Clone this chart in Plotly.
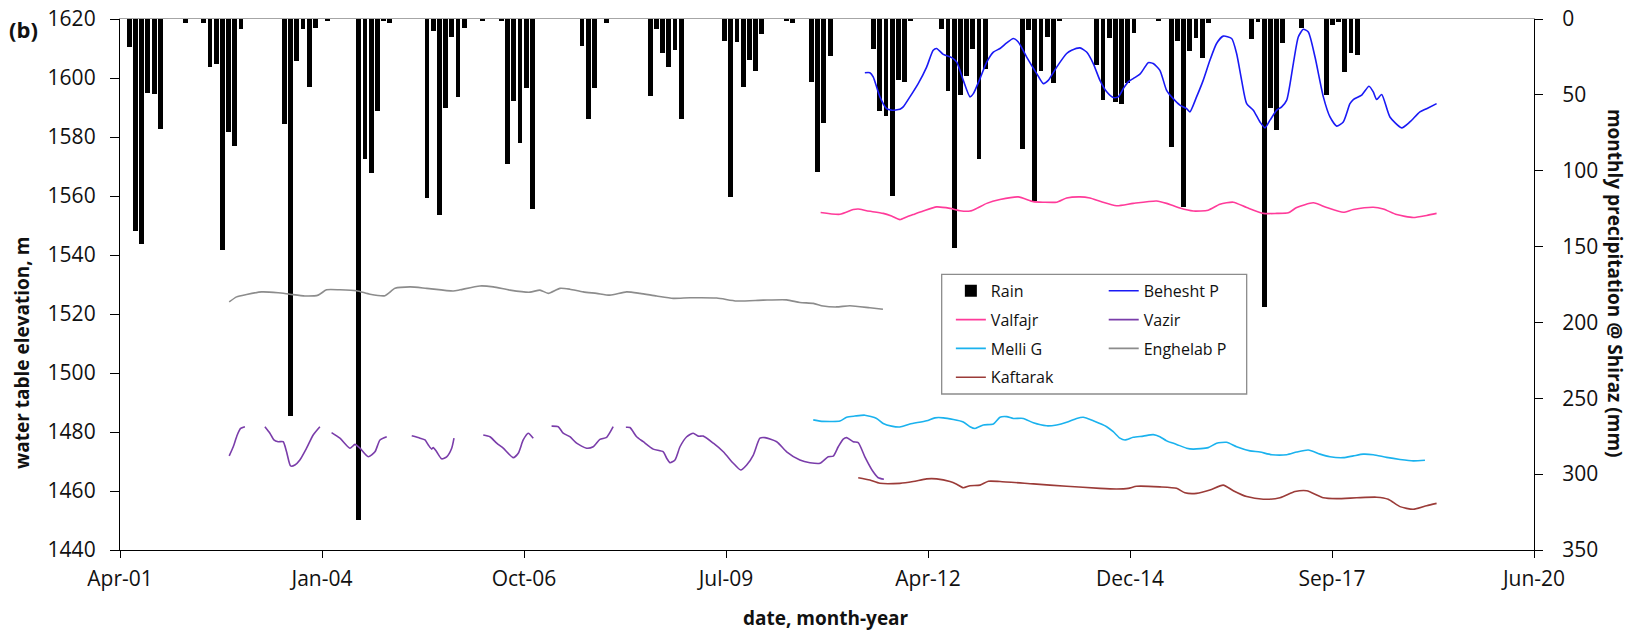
import plotly.graph_objects as go
import pandas as pd
from datetime import datetime

# ---------------- data ----------------
# monthly precipitation at Shiraz (mm), 228 consecutive months
rain_months = pd.date_range('2001-05-01', periods=228, freq='MS').strftime('%Y-%m').tolist()
rain_mm = [
    0, 18.7, 139.8, 148.3, 49, 49.4, 72.7, 0, 0, 0, 2.9, 0,
    0, 2.4, 31.9, 29.7, 152, 74.5, 84, 6.4, 0, 0, 0, 0,
    0, 0, 69.4, 261.5, 27.7, 6.8, 45, 5.9, 0, 1.1, 0, 0,
    0, 0, 330, 92, 101.7, 60.6, 1.1, 2.9, 0, 0, 0, 0,
    0, 118.2, 7.7, 129.2, 58.5, 11.9, 51.2, 6.2, 0, 0, 1.5, 0,
    0, 1.5, 95.4, 53.8, 82, 45.7, 125.2, 0, 0, 0, 0, 0,
    0, 0, 17.6, 65.9, 45.7, 0, 2.9, 0, 0, 0, 0, 0,
    0, 50.8, 6.4, 22.6, 31.9, 20.6, 65.9, 0, 0, 0, 0, 0,
    0, 14.3, 117.5, 15.4, 45, 26.8, 34.3, 9.7, 0, 0, 0, 1.1,
    2.4, 0, 0, 41.3, 100.6, 68.8, 24.4, 0, 0, 0, 0, 0,
    0, 20, 60.6, 63.7, 116.7, 40.4, 41.5, 1.5, 0, 0, 0, 0,
    6.8, 47.7, 151.2, 50.1, 37.6, 20, 92.1, 33, 0, 0, 0, 0,
    0, 85.9, 7.3, 120, 34.3, 11.9, 42, 1.5, 0, 0, 0, 0,
    0, 30.3, 53.4, 12.3, 54.5, 56.2, 42.4, 9.2, 0, 0, 0, 1.1,
    0, 84.2, 14.7, 123.7, 21.1, 12.5, 25.5, 2.4, 0, 0, 0, 0,
    0, 0, 13.4, 2, 189.6, 58.5, 73.2, 15.6, 0, 0, 6.2, 0,
    0, 0, 50.1, 4, 2, 35.2, 22.2, 23.7, 0, 0, 0, 0,
    0, 0, 0, 0, 0, 0, 0, 0, 0, 0, 0, 0,
    0, 0, 0, 0, 0, 0, 0, 0, 0, 0, 0, 0,
]

# water-table elevations (m); time as decimal year
behesht_t = [2011.393, 2011.461, 2011.506, 2011.597, 2011.688, 2011.755, 2011.868, 2011.913, 2012.004, 2012.116,
             2012.230, 2012.319, 2012.365, 2012.455, 2012.569, 2012.637, 2012.726, 2012.817, 2012.862, 2012.952,
             2013.043, 2013.133, 2013.223, 2013.314, 2013.404, 2013.471, 2013.585, 2013.721, 2013.810, 2013.878,
             2013.992, 2014.127, 2014.195, 2014.308, 2014.398, 2014.488, 2014.579, 2014.670, 2014.759, 2014.827,
             2014.895, 2014.962, 2015.030, 2015.121, 2015.189, 2015.233, 2015.301, 2015.392, 2015.483, 2015.572,
             2015.663, 2015.754, 2015.798, 2015.889, 2015.979, 2016.070, 2016.160, 2016.250, 2016.364, 2016.431,
             2016.499, 2016.567, 2016.657, 2016.747, 2016.815, 2016.883, 2016.974, 2017.041, 2017.109, 2017.199,
             2017.266, 2017.334, 2017.402, 2017.493, 2017.606, 2017.696, 2017.787, 2017.876, 2017.967, 2018.012,
             2018.126, 2018.225, 2018.283, 2018.329, 2018.397, 2018.509, 2018.668, 2018.780, 2018.916, 2019.007,
             2019.142]
behesht_e = [1601.8, 1601.8, 1600.4, 1593.6, 1589.6, 1589.1, 1589.4, 1590.2, 1593.6, 1598.1,
             1603.7, 1609.4, 1610.0, 1608.0, 1606.9, 1605.4, 1599.2, 1593.6, 1594.7, 1599.8,
             1605.4, 1608.8, 1610.0, 1611.9, 1613.4, 1612.2, 1607.1, 1601.5, 1598.1, 1599.2,
             1603.7, 1608.3, 1609.4, 1610.2, 1608.8, 1604.9, 1599.2, 1595.3, 1593.4, 1593.6,
             1596.4, 1598.7, 1599.8, 1601.3, 1603.7, 1605.2, 1604.9, 1602.6, 1595.8, 1593.0,
             1590.8, 1589.6, 1588.5, 1593.6, 1599.2, 1606.0, 1611.7, 1614.2, 1613.4, 1608.3,
             1599.2, 1591.3, 1589.1, 1585.1, 1583.1, 1585.7, 1589.1, 1590.2, 1592.5, 1604.9,
             1613.9, 1616.5, 1615.6, 1607.1, 1593.6, 1586.8, 1583.7, 1585.1, 1591.3, 1592.7,
             1594.2, 1597.2, 1595.3, 1592.7, 1594.4, 1586.8, 1583.1, 1585.1, 1588.5, 1589.6,
             1591.3]

valfajr_t = [2010.793, 2011.055, 2011.235, 2011.303, 2011.417, 2011.642, 2011.755, 2011.868, 2011.959, 2012.048,
             2012.184, 2012.365, 2012.546, 2012.681, 2012.817, 2012.907, 2013.043, 2013.223, 2013.471, 2013.675,
             2013.810, 2013.992, 2014.127, 2014.308, 2014.443, 2014.579, 2014.805, 2015.030, 2015.347, 2015.483,
             2015.663, 2015.844, 2016.047, 2016.205, 2016.386, 2016.567, 2016.792, 2016.974, 2017.131, 2017.245,
             2017.470, 2017.652, 2017.876, 2018.012, 2018.283, 2018.419, 2018.600, 2018.825, 2019.007, 2019.142]
valfajr_e = [1554.4, 1553.8, 1555.4, 1555.6, 1555.0, 1554.1, 1553.2, 1552.0, 1552.9, 1553.7,
             1554.9, 1556.3, 1555.8, 1555.0, 1554.9, 1555.8, 1557.5, 1558.8, 1559.7, 1558.1,
             1557.9, 1557.9, 1559.3, 1559.7, 1559.3, 1558.2, 1556.7, 1557.5, 1558.3, 1557.5,
             1555.9, 1554.9, 1555.2, 1557.2, 1557.9, 1556.1, 1554.1, 1554.1, 1554.3, 1556.1,
             1557.7, 1556.1, 1554.5, 1555.4, 1556.2, 1555.6, 1553.7, 1552.7, 1553.4, 1554.1]

melli_t = [2010.693, 2010.784, 2011.055, 2011.146, 2011.258, 2011.393, 2011.552, 2011.642, 2011.755, 2011.868,
           2012.004, 2012.230, 2012.342, 2012.455, 2012.726, 2012.817, 2012.885, 2012.997, 2013.133, 2013.223,
           2013.314, 2013.404, 2013.539, 2013.675, 2013.856, 2013.992, 2014.127, 2014.263, 2014.352, 2014.488,
           2014.670, 2014.759, 2014.850, 2014.918, 2015.030, 2015.166, 2015.301, 2015.392, 2015.483, 2015.618,
           2015.754, 2015.844, 2016.047, 2016.160, 2016.296, 2016.431, 2016.612, 2016.747, 2016.906, 2017.109,
           2017.245, 2017.402, 2017.561, 2017.696, 2017.876, 2018.012, 2018.147, 2018.283, 2018.464, 2018.645,
           2018.825, 2018.984]
melli_e = [1484.1, 1483.7, 1483.7, 1485.0, 1485.4, 1485.7, 1484.6, 1482.9, 1482.0, 1481.7,
           1482.7, 1483.8, 1484.8, 1484.8, 1483.4, 1481.8, 1481.2, 1482.4, 1482.7, 1485.0,
           1485.2, 1484.6, 1484.6, 1483.1, 1482.1, 1482.4, 1483.3, 1484.6, 1485.0, 1483.8,
           1481.8, 1480.1, 1477.9, 1477.3, 1478.2, 1478.6, 1479.1, 1478.4, 1477.0, 1475.8,
           1474.5, 1474.2, 1474.7, 1476.2, 1476.5, 1475.0, 1473.6, 1473.2, 1472.3, 1472.3,
           1473.2, 1473.9, 1472.5, 1471.6, 1471.3, 1471.9, 1472.5, 1472.3, 1471.4, 1470.7,
           1470.2, 1470.4]

kaftarak_t = [2011.303, 2011.461, 2011.597, 2011.868, 2012.048, 2012.230, 2012.365, 2012.546, 2012.637, 2012.726,
              2012.817, 2012.952, 2013.065, 2013.223, 2013.675, 2014.127, 2014.579, 2014.805, 2014.962, 2015.076,
              2015.392, 2015.618, 2015.731, 2015.889, 2016.070, 2016.250, 2016.386, 2016.567, 2016.792, 2017.018,
              2017.222, 2017.380, 2017.606, 2017.787, 2018.058, 2018.329, 2018.486, 2018.645, 2018.825, 2019.007,
              2019.142]
kaftarak_e = [1464.5, 1463.7, 1462.6, 1462.6, 1463.2, 1464.1, 1464.1, 1463.2, 1462.3, 1461.1,
              1461.8, 1462.0, 1463.3, 1463.2, 1462.4, 1461.6, 1460.9, 1460.7, 1460.9, 1461.6,
              1461.4, 1460.9, 1459.4, 1459.2, 1460.3, 1462.0, 1460.1, 1458.1, 1457.2, 1457.7,
              1459.8, 1460.1, 1457.7, 1457.4, 1457.7, 1457.9, 1457.2, 1454.7, 1453.8, 1455.0,
              1455.8]

enghelab_t = [2002.777, 2002.878, 2003.013, 2003.217, 2003.441, 2003.600, 2003.803, 2003.984, 2004.097, 2004.278,
              2004.504, 2004.685, 2004.887, 2005.023, 2005.227, 2005.453, 2005.813, 2005.904, 2006.175, 2006.356,
              2006.582, 2006.853, 2006.989, 2007.101, 2007.260, 2007.395, 2007.575, 2007.757, 2007.937, 2008.164,
              2008.344, 2008.570, 2008.795, 2009.022, 2009.384, 2009.655, 2010.015, 2010.332, 2010.512, 2010.693,
              2010.828, 2011.010, 2011.190, 2011.461, 2011.638]
enghelab_e = [1524.1, 1525.8, 1526.6, 1527.5, 1527.2, 1526.7, 1526.1, 1526.4, 1528.2, 1528.2,
              1527.9, 1526.7, 1526.2, 1528.7, 1529.2, 1528.7, 1527.8, 1528.2, 1529.5, 1529.2,
              1528.1, 1527.4, 1528.1, 1527.0, 1528.7, 1528.4, 1527.5, 1527.0, 1526.4, 1527.5,
              1527.0, 1526.1, 1525.3, 1525.5, 1525.4, 1524.4, 1524.7, 1524.8, 1523.9, 1523.6,
              1522.7, 1522.4, 1522.8, 1522.1, 1521.6]

# Vazir record has gaps (None)
vazir_t = [2002.777, 2002.832, 2002.886, 2002.932, 2002.990, None,
           2003.261, 2003.329, 2003.383, 2003.441, 2003.509, 2003.555, 2003.610, 2003.668, 2003.735, 2003.826,
           2003.916, 2004.007, None,
           2004.165, 2004.278, 2004.413, 2004.481, 2004.549, 2004.661, 2004.752, 2004.820, 2004.911, None,
           2005.250, 2005.362, 2005.430, 2005.475, 2005.521, 2005.542, 2005.588, 2005.656, 2005.724, 2005.792,
           2005.823, None,
           2006.220, 2006.311, 2006.402, 2006.491, 2006.627, 2006.695, 2006.762, 2006.830, 2006.898, None,
           2007.147, 2007.237, 2007.304, 2007.395, 2007.486, 2007.622, 2007.711, 2007.802, 2007.893, 2007.982, None,
           2008.154, 2008.209, 2008.299, 2008.389, 2008.524, 2008.660, 2008.706, 2008.751, 2008.818, 2008.886,
           2008.977, 2009.066, 2009.134, 2009.202, 2009.338, 2009.473, 2009.609, 2009.709, 2009.790, 2009.880,
           2009.970, 2010.038, 2010.197, 2010.332, 2010.512, 2010.648, 2010.784, 2010.896, 2010.964, 2011.032,
           2011.100, 2011.146, 2011.235, 2011.303, 2011.393, 2011.506, 2011.574, 2011.651]
vazir_e = [1471.9, 1475.0, 1479.0, 1481.2, 1481.8, None,
           1481.8, 1479.6, 1477.3, 1476.7, 1476.7, 1473.3, 1468.5, 1468.8, 1470.5, 1474.5,
           1479.0, 1481.8, None,
           1479.8, 1477.9, 1474.5, 1475.8, 1474.5, 1471.6, 1473.3, 1477.3, 1478.4, None,
           1478.7, 1477.9, 1477.3, 1475.6, 1474.2, 1474.7, 1473.3, 1470.9, 1471.6, 1474.5,
           1477.9, None,
           1479.0, 1478.4, 1476.2, 1474.5, 1471.3, 1472.8, 1477.3, 1479.6, 1477.9, None,
           1482.0, 1481.8, 1479.6, 1478.4, 1476.2, 1474.5, 1475.0, 1477.5, 1478.2, 1481.8, None,
           1481.6, 1481.5, 1478.4, 1476.7, 1474.2, 1473.3, 1471.1, 1469.6, 1470.5, 1475.0,
           1478.4, 1479.6, 1478.6, 1478.6, 1476.2, 1473.3, 1469.4, 1467.1, 1468.8, 1472.2,
           1477.9, 1478.1, 1476.7, 1473.3, 1470.5, 1469.6, 1469.4, 1471.6, 1471.8, 1475.0,
           1477.6, 1478.1, 1476.7, 1476.4, 1471.6, 1466.5, 1464.5, 1464.0]

# x-axis ticks (every 1000 days)
x_tickvals = ['2001-04-19', '2004-01-14', '2006-10-10', '2009-07-06',
              '2012-04-01', '2014-12-27', '2017-09-22', '2020-06-18']
x_ticktext = ['Apr-01', 'Jan-04', 'Oct-06', 'Jul-09', 'Apr-12', 'Dec-14', 'Sep-17', 'Jun-20']
elev_ticks = [1440, 1460, 1480, 1500, 1520, 1540, 1560, 1580, 1600, 1620]
precip_ticks = [0, 50, 100, 150, 200, 250, 300, 350]


def to_date(y):
    if y is None:
        return None
    yr = int(y)
    s = datetime(yr, 1, 1)
    e = datetime(yr + 1, 1, 1)
    return s + (e - s) * (y - yr)


FONT = 'Open Sans'
fig = go.Figure()

fig.add_trace(go.Bar(x=rain_months, y=rain_mm, name='Rain', xaxis='x', yaxis='y',
                     marker=dict(color='black', line=dict(width=0)), width=0.78,
                     legend='legend', legendgroup='g1'))

series = [
    ('Valfajr', valfajr_t, valfajr_e, '#FF3B9A', 'legend'),
    ('Melli G', melli_t, melli_e, '#1AB2EE', 'legend'),
    ('Kaftarak', kaftarak_t, kaftarak_e, '#9B3B38', 'legend'),
    ('Behesht P', behesht_t, behesht_e, '#1A1AF5', 'legend2'),
    ('Vazir', vazir_t, vazir_e, '#7A3DAA', 'legend2'),
    ('Enghelab P', enghelab_t, enghelab_e, '#8C8C8C', 'legend2'),
]
for name, t, e, col, lg in series:
    fig.add_trace(go.Scatter(x=[to_date(v) for v in t], y=e, name=name, mode='lines',
                             xaxis='x2', yaxis='y2', connectgaps=False,
                             line=dict(color=col, width=1.6, shape='spline', smoothing=0.6),
                             legend=lg, legendgroup=name))

tickfont = dict(family=FONT, size=21, color='#111')
fig.update_layout(
    width=1633, height=634,
    margin=dict(l=120, r=99, t=19, b=84, autoexpand=False),
    paper_bgcolor='white', plot_bgcolor='white',
    showlegend=True, bargap=0,
    xaxis=dict(type='category', range=[-0.5, 227.5], side='top', anchor='y',
               showline=True, linecolor='#A6A6A6', linewidth=1.3,
               showticklabels=False, ticks='', showgrid=False, zeroline=False, fixedrange=True),
    yaxis=dict(range=[350, 0], side='right', anchor='x', tickvals=precip_ticks,
               ticks='outside', ticklen=8, tickwidth=1.3, tickcolor='black',
               showline=True, linecolor='black', linewidth=1.3, showgrid=False, zeroline=False,
               tickfont=tickfont, ticklabelstandoff=15, ticklabeloverflow='allow'),
    xaxis2=dict(type='date', overlaying='x', side='bottom', anchor='y2',
                range=['2001-04-19', '2020-06-18'], tickvals=x_tickvals, ticktext=x_ticktext,
                ticks='outside', ticklen=7, tickwidth=1.3, tickcolor='black',
                showline=True, linecolor='black', linewidth=1.3, showgrid=False, zeroline=False,
                tickfont=tickfont, ticklabelstandoff=3, ticklabeloverflow='allow'),
    yaxis2=dict(overlaying='y', side='left', anchor='x2', range=[1440, 1620], tickvals=elev_ticks,
                ticks='outside', ticklen=9, tickwidth=1.3, tickcolor='black',
                showline=True, linecolor='black', linewidth=1.3, showgrid=False, zeroline=False,
                tickfont=tickfont, ticklabelstandoff=10, ticklabeloverflow='allow'),
    legend=dict(x=0.5876, y=0.52, xanchor='left', yanchor='top', bgcolor='rgba(0,0,0,0)',
                font=dict(family=FONT, size=16, color='#111'), tracegroupgap=5, itemwidth=30),
    legend2=dict(x=0.6957, y=0.52, xanchor='left', yanchor='top', bgcolor='rgba(0,0,0,0)',
                 font=dict(family=FONT, size=16, color='#111'), tracegroupgap=5, itemwidth=30),
    shapes=[dict(type='rect', xref='paper', yref='paper', x0=0.5811, x1=0.7968, y0=0.2938, y1=0.5192,
                 line=dict(color='#8C8C8C', width=1.3), fillcolor='white', layer='below')],
    annotations=[
        dict(text='<b>(b)</b>', x=-0.0799, y=0.981, xref='paper', yref='paper', xanchor='left',
             yanchor='middle', showarrow=False, font=dict(family=FONT, size=22, color='#111')),
        dict(text='<b>water table elevation, m</b>', x=-0.0693, y=0.371, xref='paper', yref='paper',
             textangle=-90, showarrow=False, xanchor='center', yanchor='middle',
             font=dict(family=FONT, size=19, color='#111')),
        dict(text='<b>monthly precipitation @ Shiraz (mm)</b>', x=1.0573, y=0.503, xref='paper',
             yref='paper', textangle=90, showarrow=False, xanchor='center', yanchor='middle',
             font=dict(family=FONT, size=19, color='#111')),
        dict(text='<b>date, month-year</b>', x=0.4993, y=-0.128, xref='paper', yref='paper',
             showarrow=False, xanchor='center', yanchor='middle',
             font=dict(family=FONT, size=19, color='#111')),
    ],
)

# remove the browser's default 8px body margin so the figure fills the window exactly
fig.write_html('out.html', config={'displayModeBar': False},
               post_script="document.body.style.margin='0';document.body.style.overflow='hidden';")
